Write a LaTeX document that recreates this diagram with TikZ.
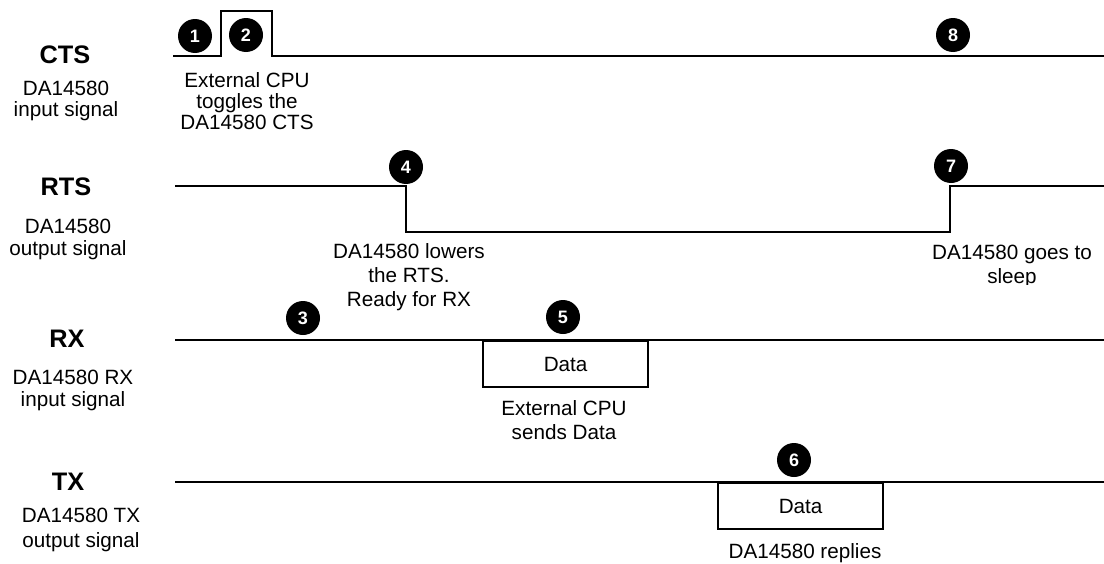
\documentclass[tikz,border=0pt]{standalone}
\usepackage{fontspec}
\setmainfont{Liberation Sans}
\begin{document}
\begin{tikzpicture}[x=0.75pt,y=-0.75pt,
  wave/.style={line width=1.7pt,line join=miter},
  num/.style={circle,fill=black,minimum size=25.5pt,inner sep=0pt,text=white,font=\fontsize{13.5}{15}\selectfont\bfseries},
  title/.style={font=\fontsize{19}{23}\selectfont\bfseries,inner sep=0pt},
  sub/.style={font=\fontsize{15.5}{16.5}\selectfont,align=center,inner sep=0pt},
  note/.style={font=\fontsize{15.5}{18}\selectfont,align=center,inner sep=0pt},
  databox/.style={draw,line width=1.7pt,minimum width=123.75pt,minimum height=34.5pt,anchor=north west,inner sep=0pt,font=\fontsize{15.5}{17}\selectfont}]
\useasboundingbox (0,0) rectangle (1104,564);
% left labels
\node[title] (tcts) at (65,55) {CTS};
\node[sub,font=\fontsize{15.5}{15.5}\selectfont] (scts) at (66,101) {DA14580\\input signal};
\node[title] (trts) at (66,187) {RTS};
\node[sub] (srts) at (68,239) {DA14580\\output signal};
\node[title] (trx) at (67,339) {RX};
\node[sub] (srx) at (73,390) {DA14580 RX\\input signal};
\node[title] (ttx) at (68,482) {TX};
\node[sub,font=\fontsize{15.5}{18.5}\selectfont] (stx) at (81,530) {DA14580 TX\\output signal};
% waveforms
\draw[wave] (173,56) -- (221,56) -- (221,11) -- (272,11) -- (272,56) -- (1104,56);
\draw[wave] (175,186) -- (406,186) -- (406,232) -- (950,232) -- (950,186) -- (1104,186);
\draw[wave] (175,340) -- (1104,340);
\draw[wave] (175,482) -- (1104,482);
\node[databox] (d1) at (482,340) {Data};
\node[databox] (d2) at (717,482) {Data};
% numbered markers
\node[num] (n1) at (195,36) {1};
\node[num] (n2) at (246,35) {2};
\node[num] (n3) at (303,318) {3};
\node[num] (n4) at (406,167) {4};
\node[num] (n5) at (563,317) {5};
\node[num] (n6) at (794,460) {6};
\node[num] (n7) at (951,166) {7};
\node[num] (n8) at (953,35) {8};
% notes
\node[note,font=\fontsize{15.5}{15.5}\selectfont] (c1) at (247,101) {External CPU\\toggles the\\DA14580 CTS};
\node[note] (c2) at (409,277) {DA14580 lowers\\the RTS.\\Ready for RX};
\begin{scope}
\clip (880,238) rectangle (1104,284);
\node[note] (c3) at (1012,266) {DA14580 goes to\\sleep};
\end{scope}
\node[note] (c4) at (564,420) {External CPU\\sends Data};
\node[note] (c5) at (805,553) {DA14580 replies};
\end{tikzpicture}
\end{document}
